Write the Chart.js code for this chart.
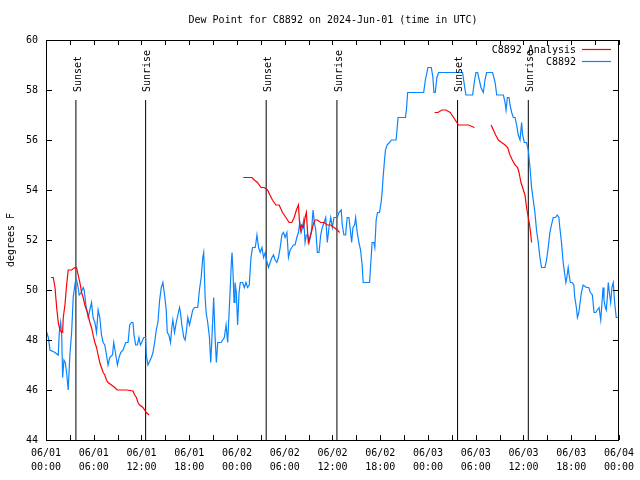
<!DOCTYPE html>
<html><head><meta charset="utf-8">
<script src="https://cdn.jsdelivr.net/npm/chart.js@4.4.1/dist/chart.umd.min.js"></script>
<style>html,body{margin:0;padding:0;background:#fff}#wrap{width:640px;height:480px}</style>
</head><body><div id="wrap"><canvas id="c" width="640" height="480"></canvas></div>
<script>
const FONT = "'DejaVu Sans Mono', 'Liberation Mono', monospace";
const titleText = 'Dew Point for C8892 on 2024-Jun-01 (time in UTC)';
const yAxisTitle = 'degrees F';
const seriesNames = ['C8892 Analysis', 'C8892'];
const seriesColors = ['#ff0000', '#0a84ff'];

const xTickDates = ['06/01','06/01','06/01','06/01','06/02','06/02','06/02','06/02','06/03','06/03','06/03','06/03','06/04'];
const xTickTimes = ['00:00','06:00','12:00','18:00','00:00','06:00','12:00','18:00','00:00','06:00','12:00','18:00','00:00'];

// hours since 06/01 00:00 UTC
const blueHours = [
0,0.29,0.5,1.13,1.54,1.67,1.84,1.97,2.09,2.25,
2.42,2.59,2.79,3.0,3.22,3.42,3.67,3.84,4.04,4.17,
4.42,4.67,4.8,5.01,5.3,5.51,5.72,5.92,6.14,6.35,
6.55,6.76,6.97,7.18,7.39,7.6,7.8,8.01,8.35,8.51,
8.77,8.98,9.18,9.39,9.68,10.02,10.31,10.52,10.73,10.93,
11.06,11.27,11.48,11.68,11.86,12.02,12.27,12.52,12.61,12.81,
13.24,13.44,13.65,13.86,14.06,14.28,14.49,14.69,14.9,15.11,
15.24,15.44,15.65,15.81,15.94,16.15,16.37,16.57,16.78,16.9,
17.07,17.32,17.49,17.66,17.82,18.03,18.24,18.44,18.66,19.07,
19.28,19.5,19.7,19.82,20.0,20.12,20.32,20.54,20.7,20.87,
21.07,21.25,21.41,21.58,22.0,22.41,22.63,22.83,23.04,23.17,
23.29,23.38,23.5,23.63,23.75,23.92,24.08,24.26,24.42,24.71,
24.92,25.13,25.33,25.54,25.76,25.96,26.3,26.51,26.71,26.92,
27.14,27.34,27.55,27.71,27.96,28.17,28.39,28.59,28.8,29.01,
29.21,29.43,29.64,29.84,30.05,30.27,30.47,30.68,30.89,31.09,
31.3,31.52,31.72,31.89,32.06,32.22,32.39,32.56,32.72,32.9,
33.06,33.22,33.4,33.56,33.72,33.9,34.1,34.31,34.52,34.72,
34.94,35.15,35.35,35.56,35.78,35.98,36.19,36.6,36.81,37.1,
37.23,37.44,37.65,37.85,38.07,38.28,38.41,38.57,38.78,38.91,
39.11,39.32,39.53,39.73,39.86,40.07,40.66,40.82,40.98,41.2,
41.32,41.49,41.66,41.91,42.11,42.24,42.36,42.54,42.66,42.86,
43.16,43.41,43.99,44.11,44.24,45.17,45.29,45.45,47.46,47.67,
47.87,48.0,48.42,48.62,48.75,48.92,49.12,49.34,52.35,52.57,
52.77,53.61,53.82,54.02,54.24,54.45,54.66,54.96,55.16,55.37,
56.12,56.44,56.64,57.48,57.69,57.81,57.98,58.19,58.31,58.52,
58.73,58.94,59.14,59.35,59.57,59.77,59.89,60.11,60.39,60.61,
60.82,61.02,61.23,61.44,61.64,61.86,62.07,62.27,62.7,62.9,
63.11,63.32,63.52,63.74,64.02,64.24,64.45,64.57,64.78,64.99,
65.2,65.33,65.45,65.62,65.74,65.9,66.12,66.33,66.45,66.65,
66.78,66.96,67.16,67.28,67.5,67.91,68.21,68.41,68.66,68.87,
69.08,69.28,69.5,69.71,69.87,70.0,70.12,70.29,70.41,70.54,
70.66,70.83,70.96,71.12,71.29,71.46,71.66,72.0
];
const blueDew = [
48.4,48.1,47.6,47.5,47.4,48.3,48.7,48.2,46.5,47.2,
47.1,46.7,46.0,47.4,48.3,49.7,50.3,50.4,50.1,49.8,
49.9,50.1,50.0,49.4,48.9,49.2,49.5,48.9,48.7,48.3,
49.2,48.9,48.2,47.9,47.8,47.4,47.0,47.3,47.4,47.9,
47.4,47.0,47.3,47.5,47.6,47.9,47.9,48.6,48.7,48.7,
48.2,47.8,47.8,48.1,47.8,47.9,48.1,48.1,47.4,47.0,
47.3,47.5,47.9,48.4,48.7,49.6,50.1,50.3,49.8,49.2,
48.3,48.2,47.9,48.5,48.8,48.3,48.7,49.0,49.3,49.1,
48.6,48.1,48.0,48.4,48.9,48.6,48.9,49.2,49.3,49.3,
50.0,50.5,51.3,51.5,49.7,49.1,48.7,48.1,47.1,48.2,
49.7,48.1,47.1,47.9,47.9,48.1,48.6,47.9,49.3,50.2,
51.1,51.5,50.7,49.5,50.3,49.9,48.6,49.9,50.3,50.3,
50.1,50.3,50.1,50.2,51.3,51.7,51.7,52.2,51.7,51.5,
51.7,51.3,51.5,51.2,50.9,51.1,51.3,51.4,51.2,51.1,
51.3,51.7,52.2,52.3,52.1,52.3,51.3,51.6,51.7,51.8,
51.8,52.1,52.3,52.7,52.3,52.5,52.8,51.9,52.2,52.2,
51.9,52.1,52.5,53.2,52.7,52.4,51.5,51.5,52.2,52.5,
52.7,52.9,51.9,52.5,52.9,52.5,52.9,52.9,53.1,53.2,
52.6,52.2,52.2,52.9,52.9,52.3,51.9,52.5,52.6,52.9,
52.3,51.9,51.6,51.0,50.3,50.3,50.3,51.1,51.9,51.9,
51.7,52.8,53.1,53.1,53.5,53.9,54.5,55.2,55.6,55.8,
55.9,56.0,56.0,56.4,56.9,56.9,57.2,57.9,57.9,58.4,
58.7,58.9,58.9,58.5,57.9,57.9,58.5,58.7,58.7,58.2,
57.8,57.8,58.3,58.7,58.7,58.4,58.1,57.9,58.4,58.7,
58.7,58.3,57.8,57.8,57.5,57.2,57.7,57.7,57.4,57.1,
56.9,56.9,56.6,56.2,56.0,56.7,56.2,55.9,55.9,55.6,
54.9,54.1,53.6,53.1,52.4,51.9,51.3,50.9,50.9,51.2,
51.7,52.3,52.6,52.9,52.9,53.0,52.9,52.5,51.9,51.1,
50.6,50.3,50.5,50.9,50.6,50.3,50.3,50.2,49.7,49.3,
48.9,49.1,49.6,49.9,50.2,50.1,50.1,49.9,49.8,49.1,
49.1,49.2,49.3,48.8,49.5,50.1,49.6,49.3,49.2,49.7,
50.3,49.8,49.5,50.1,50.3,49.5,48.9,48.9
];

const redHours = [
0.63,0.91,1.13,1.34,1.54,1.75,1.97,2.09,2.17,2.38,
2.59,2.79,3.22,3.63,3.84,4.04,4.26,4.47,4.67,4.88,
5.1,5.3,5.51,5.72,5.92,6.14,6.35,6.55,6.76,6.97,
7.18,7.39,7.6,7.8,8.23,8.64,8.93,10.11,10.93,11.14,
11.36,11.56,11.77,12.18,12.61,12.94,18,
24.79,25.33,25.88,26.17,26.58,27.01,27.42,27.84,28.14,28.46,
28.89,29.3,29.72,30.14,30.55,30.89,31.18,31.47,31.72,31.84,
31.97,32.14,32.34,32.56,32.72,32.85,32.97,33.15,33.35,33.56,
33.81,34.1,34.52,34.94,35.35,35.78,36.19,36.6,36.9,42,
48.84,49.25,49.75,50.25,50.8,51.22,51.63,51.84,52.47,53.09,
53.84,55,55.94,56.22,56.51,56.85,57.26,57.69,58.01,58.31,
58.6,58.94,59.27,59.44,59.69,59.89,60.19,60.39,60.61,60.82,61.02
];
const redDew = [
50.5,50.5,50.1,49.3,48.7,48.4,48.3,48.3,48.9,49.4,
50.2,50.8,50.8,50.9,50.9,50.6,50.3,49.9,49.7,49.4,
49.2,49.0,48.7,48.5,48.2,47.9,47.7,47.4,47.1,46.9,
46.7,46.6,46.4,46.3,46.2,46.1,46.0,46.0,45.96,45.8,
45.7,45.5,45.4,45.3,45.1,45.0,null,
54.5,54.5,54.5,54.4,54.3,54.1,54.1,54.0,53.8,53.6,
53.4,53.4,53.1,52.9,52.7,52.7,52.9,53.2,53.4,52.8,
52.4,52.6,52.5,52.9,53.1,52.4,51.9,52.1,52.3,52.6,
52.8,52.8,52.7,52.7,52.6,52.6,52.5,52.4,52.3,null,
57.1,57.1,57.2,57.2,57.1,56.9,56.7,56.6,56.6,56.6,
56.5,null,56.6,56.4,56.2,56.0,55.9,55.8,55.7,55.4,
55.2,55.0,54.9,54.7,54.3,54.1,53.8,53.3,52.9,52.5,51.9
];

const eventHours = [3.76, 12.52, 27.67, 36.56, 51.72, 60.61];
const eventNames = ['Sunset', 'Sunrise', 'Sunset', 'Sunrise', 'Sunset', 'Sunrise'];
const eventLineTop = 57.6;
const yMin = 44, yMax = 60, yStep = 2;
const xMin = 0, xMax = 72, xStep = 3;

const toPts = (xs, ys) => xs.map((x, i) => ({ x: x, y: ys[i] }));

const datasets = [
  { label: seriesNames[0], data: toPts(redHours, redDew), borderColor: seriesColors[0], borderWidth: 1.2, pointRadius: 0, tension: 0, spanGaps: false },
  { label: seriesNames[1], data: toPts(blueHours, blueDew), borderColor: seriesColors[1], borderWidth: 1.2, pointRadius: 0, tension: 0 }
];
eventHours.forEach((h, i) => {
  datasets.push({ label: '', isEvent: true, data: [{ x: h, y: yMin }, { x: h, y: eventLineTop }], borderColor: '#000', borderWidth: 1, pointRadius: 0 });
});

const decor = {
  id: 'decor',
  afterDraw(chart) {
    const ctx = chart.ctx, a = chart.chartArea;
    const xs = chart.scales.x, ys = chart.scales.y;
    ctx.save();
    ctx.strokeStyle = '#000'; ctx.lineWidth = 1;
    ctx.beginPath();
    xs.ticks.forEach(t => {
      const p = Math.round(xs.getPixelForValue(t.value)) + 0.5;
      ctx.moveTo(p, a.bottom); ctx.lineTo(p, a.bottom - 5);
      ctx.moveTo(p, a.top); ctx.lineTo(p, a.top + 5);
    });
    ys.ticks.forEach(t => {
      const p = Math.round(ys.getPixelForValue(t.value)) + 0.5;
      ctx.moveTo(a.left, p); ctx.lineTo(a.left + 6, p);
      ctx.moveTo(a.right, p); ctx.lineTo(a.right - 6, p);
    });
    ctx.stroke();
    ctx.strokeRect(Math.round(a.left) + 0.5, Math.round(a.top) + 0.5, Math.round(a.right - a.left) - 1, Math.round(a.bottom - a.top));

    ctx.fillStyle = '#000';
    ctx.font = '10px ' + FONT;
    ctx.textAlign = 'center'; ctx.textBaseline = 'middle';
    ctx.fillText(titleText, 333, 20);

    ctx.save();
    ctx.translate(11, 240); ctx.rotate(-Math.PI / 2);
    ctx.fillText(yAxisTitle, 0, 0);
    ctx.restore();

    eventHours.forEach((h, i) => {
      const p = xs.getPixelForValue(h);
      ctx.save();
      ctx.translate(p + 2, 92); ctx.rotate(-Math.PI / 2);
      ctx.textAlign = 'left'; ctx.textBaseline = 'middle';
      ctx.fillText(eventNames[i], 0, 0);
      ctx.restore();
    });

    for (let i = 0; i < 2; i++) {
      const ds = chart.data.datasets[i];
      const y = 50 + i * 12;
      ctx.textAlign = 'right'; ctx.textBaseline = 'middle';
      ctx.fillStyle = '#000';
      ctx.fillText(ds.label, 576, y);
      ctx.strokeStyle = ds.borderColor; ctx.lineWidth = 1.2;
      ctx.beginPath(); ctx.moveTo(582, y - 0.5); ctx.lineTo(611, y - 0.5); ctx.stroke();
    }
    ctx.restore();
  }
};

new Chart(document.getElementById('c'), {
  type: 'line',
  data: { datasets: datasets },
  options: {
    responsive: false, animation: false, devicePixelRatio: 1,
    parsing: true,
    layout: { padding: { top: 40, right: 19, left: 0, bottom: 0 } },
    plugins: { legend: { display: false }, tooltip: { enabled: false }, title: { display: false } },
    scales: {
      x: {
        type: 'linear', min: xMin, max: xMax,
        afterFit(s) { s.height = 40; },
        grid: { display: false, drawTicks: false }, border: { display: false },
        ticks: {
          stepSize: xStep, autoSkip: false, maxRotation: 0, minRotation: 0, padding: 6,
          color: '#000', font: { family: FONT, size: 10, lineHeight: 1.4 },
          callback(v) { return v % 6 === 0 ? [xTickDates[v / 6], xTickTimes[v / 6]] : ''; }
        }
      },
      y: {
        min: yMin, max: yMax,
        afterFit(s) { s.width = 46; },
        grid: { display: false, drawTicks: false }, border: { display: false },
        ticks: { stepSize: yStep, padding: 8, color: '#000', font: { family: FONT, size: 10 } }
      }
    }
  },
  plugins: [decor]
});
</script></body></html>
